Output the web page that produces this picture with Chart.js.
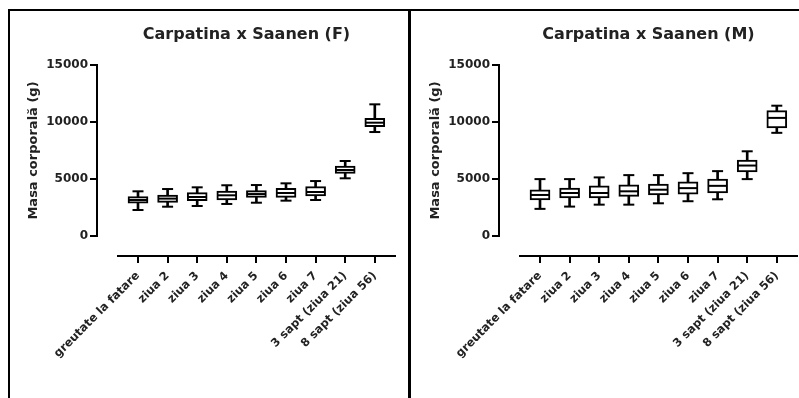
<!DOCTYPE html>
<html>
<head>
<meta charset="utf-8">
<script src="https://cdn.jsdelivr.net/npm/chart.js@4.4.1/dist/chart.umd.min.js"></script>
<style>
  html, body { margin: 0; padding: 0; background: #fff; }
  body { width: 799px; height: 398px; position: relative; overflow: hidden; }
  .frame { position: absolute; background: #000; }
  canvas { position: absolute; display: block; }
</style>
</head>
<body>
<div class="frame" style="left:8px;top:9px;width:791px;height:2px;"></div>
<div class="frame" style="left:8px;top:9px;width:2px;height:389px;"></div>
<div class="frame" style="left:408px;top:9px;width:3px;height:389px;"></div>
<canvas id="chartF" width="387" height="387" style="left:10px;top:11px;width:387px;height:387px;"></canvas>
<canvas id="chartM" width="387" height="387" style="left:412px;top:11px;width:387px;height:387px;"></canvas>
<script>
// ---- data ----
const categories = ["greutate la fatare", "ziua 2", "ziua 3", "ziua 4", "ziua 5", "ziua 6", "ziua 7", "3 sapt (ziua 21)", "8 sapt (ziua 56)"];
const yTicks = [0, 5000, 10000, 15000];
const yTitle = "Masa corporală (g)";

const titleF = "Carpatina x Saanen (F)";
const fMin    = [2280, 2570, 2630, 2810, 2920, 3100, 3160, 5060, 9120];
const fQ1     = [2870, 2950, 3100, 3160, 3390, 3390, 3510, 5500, 9590];
const fMedian = [3160, 3280, 3420, 3570, 3680, 3770, 3860, 5790, 9940];
const fQ3     = [3450, 3600, 3800, 3950, 3980, 4180, 4330, 6140, 10320];
const fMax    = [3920, 4120, 4270, 4450, 4470, 4620, 4820, 6580, 11550];

const titleM = "Carpatina x Saanen (M)";
const mMin    = [2380, 2580, 2750, 2750, 2870, 3050, 3220, 4990, 9050];
const mQ1     = [3160, 3330, 3330, 3480, 3600, 3680, 3770, 5620, 9490];
const mMedian = [3600, 3770, 3770, 3920, 4060, 4200, 4400, 6180, 10360];
const mQ3     = [4060, 4200, 4400, 4490, 4550, 4750, 4990, 6670, 11000];
const mMax    = [4990, 4990, 5140, 5340, 5340, 5510, 5690, 7430, 11430];

// ---- styling ----
const FONT = "'DejaVu Sans', 'Liberation Sans', Arial, sans-serif";
const TEXT = '#222';

const offsetXAxis = {
  id: 'offsetXAxis',
  afterDraw(chart, args, opts) {
    const { ctx, chartArea, scales } = chart;
    const x = scales.x;
    const yLine = chartArea.bottom + opts.gap;
    ctx.save();
    ctx.strokeStyle = opts.color;
    ctx.lineWidth = opts.lineWidth;
    ctx.beginPath();
    ctx.moveTo(chartArea.left + opts.gap, yLine);
    ctx.lineTo(chartArea.right, yLine);
    x.ticks.forEach(t => {
      const px = Math.round(x.getPixelForValue(t.value));
      ctx.moveTo(px, yLine);
      ctx.lineTo(px, yLine + opts.tickLength);
    });
    ctx.stroke();
    ctx.restore();
  }
};

function pts(arr) { return arr.map((v, i) => ({ x: i, y: v })); }
function ranges(lo, hi) { return lo.map((v, i) => ({ x: i, y: [v, hi[i]] })); }

function makeChart(id, title, mn, q1, med, q3, mx) {
  const pointDs = (data, r) => ({
    type: 'line', data: pts(data), showLine: false,
    pointStyle: 'line', pointRadius: r, pointHoverRadius: r,
    borderColor: '#000', pointBorderColor: '#000', pointBorderWidth: 2, borderWidth: 2
  });
  return new Chart(document.getElementById(id), {
    type: 'bar',
    data: {
      datasets: [
        pointDs(med, 9.5),
        pointDs(mx, 5.5),
        pointDs(mn, 5.5),
        { type: 'bar', data: ranges(q1, q3), grouped: false, barThickness: 20,
          backgroundColor: '#fff', borderColor: '#000', borderWidth: 2, borderSkipped: false },
        { type: 'bar', data: ranges(mn, mx), grouped: false, barThickness: 2,
          backgroundColor: '#000', borderWidth: 0 }
      ]
    },
    options: {
      responsive: false,
      animation: false,
      devicePixelRatio: 1,
      layout: { autoPadding: false, padding: { left: 0, right: 1, top: 0, bottom: 0 } },
      plugins: {
        legend: { display: false },
        tooltip: { enabled: false },
        title: {
          display: true, text: title, fullSize: false, color: TEXT,
          font: { family: FONT, size: 16, weight: 'bold' },
          padding: { top: 14.4, bottom: 20.4 }
        },
        offsetXAxis: { gap: 20, tickLength: 7, color: '#000', lineWidth: 2 }
      },
      scales: {
        x: {
          type: 'linear', min: -1.385, max: 8.716, offset: false,
          border: { display: false },
          grid: { display: false, drawTicks: false },
          afterBuildTicks: s => { s.ticks = categories.map((c, i) => ({ value: i })); },
          afterFit: s => { s.height = 162; s.paddingLeft = 0; s.paddingRight = 0; },
          ticks: {
            autoSkip: false, minRotation: 45, maxRotation: 45, padding: 33,
            color: TEXT, font: { family: FONT, size: 11.5, weight: 'bold' },
            callback: v => categories[v]
          }
        },
        y: {
          min: 0, max: 15000,
          afterBuildTicks: s => { s.ticks = yTicks.map(v => ({ value: v })); },
          afterFit: s => { s.width = 87; },
          border: { display: true, color: '#000', width: 2 },
          grid: { display: true, drawOnChartArea: false, drawTicks: true, tickLength: 7, color: '#000', lineWidth: 2 },
          ticks: { padding: 2, color: TEXT, font: { family: FONT, size: 12, weight: 'bold' },
                   callback: v => String(v) },
          title: {
            display: true, text: yTitle, color: TEXT,
            font: { family: FONT, size: 13, weight: 'bold' },
            padding: { top: 16, bottom: 0 }
          }
        }
      }
    },
    plugins: [offsetXAxis]
  });
}

makeChart('chartF', titleF, fMin, fQ1, fMedian, fQ3, fMax);
makeChart('chartM', titleM, mMin, mQ1, mMedian, mQ3, mMax);
</script>
</body>
</html>
